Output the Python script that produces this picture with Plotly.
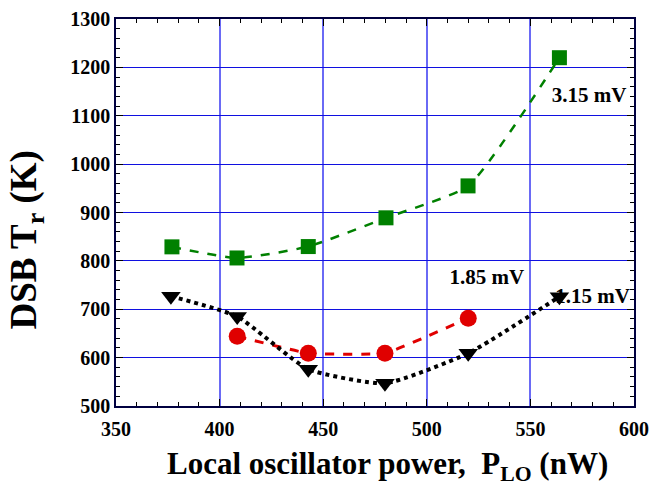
import plotly.graph_objects as go

# Data
x_green = [377, 408.4, 442.8, 480.3, 519.9, 564]
y_green = [829, 806, 829.6, 889, 955, 1220]

x_red = [408.5, 442.8, 479.8, 520]
y_red = [644, 609, 609, 681.6]

x_black = [376.5, 408.5, 442.8, 479.8, 520, 564]
y_black = [727, 685, 576, 547, 609, 726]

label_text = ["3.15 mV", "1.85 mV", "1.15 mV"]
label_x = [578.3, 529, 580]
label_y = [1138.8, 763, 723.6]

x_title = "Local oscillator power,  P<sub>LO</sub> (nW)"
y_title = "DSB T<sub>r</sub> (K)"

FONT = "Liberation Serif"

fig = go.Figure()

fig.add_trace(go.Scatter(
    x=x_green, y=y_green, mode="lines+markers",
    line=dict(color="#008000", width=2.5, dash="dash", shape="spline", smoothing=0.5),
    marker=dict(symbol="square", size=15, color="#008000"),
    showlegend=False))

fig.add_trace(go.Scatter(
    x=x_red, y=y_red, mode="lines+markers",
    line=dict(color="#e00000", width=3, dash="dash", shape="spline", smoothing=0.3),
    marker=dict(symbol="circle", size=17, color="#e00000"),
    showlegend=False))

fig.add_trace(go.Scatter(
    x=label_x, y=label_y, mode="text", text=label_text,
    textfont=dict(family=FONT, size=21, color="black", weight="bold"),
    textposition="middle center", cliponaxis=False, showlegend=False,
    hoverinfo="skip"))

fig.add_trace(go.Scatter(
    x=x_black, y=y_black, mode="lines+markers",
    line=dict(color="black", width=4, dash="dot", shape="spline", smoothing=0.5),
    marker=dict(symbol="triangle-down", size=17, color="black"),
    showlegend=False))

axis_common = dict(
    showline=True, linecolor="#000040", linewidth=1.5, mirror="ticks",
    ticks="inside", ticklen=7, tickwidth=1.2, tickcolor="black",
    tickfont=dict(family=FONT, size=20, color="black", weight="bold"),
    zeroline=False, automargin=False,
)

fig.update_xaxes(
    range=[350, 600], dtick=50, tick0=350,
    showgrid=True, gridcolor="#6a6af5", gridwidth=1.6,
    ticklabelstandoff=4,
    minor=dict(dtick=10, ticks="inside", ticklen=4, tickcolor="black", showgrid=False),
    **axis_common)

fig.update_yaxes(
    range=[500, 1300], dtick=100, tick0=500,
    showgrid=True, gridcolor="#1010e0", gridwidth=1.4,
    minor=dict(dtick=20, ticks="inside", ticklen=4, tickcolor="black", showgrid=False),
    **axis_common)

fig.add_annotation(
    text=x_title, xref="paper", yref="paper", x=0.525, y=-0.155,
    xanchor="center", yanchor="middle", showarrow=False,
    font=dict(family=FONT, size=31, color="black", weight="bold"))

fig.add_annotation(
    text=y_title, xref="paper", yref="paper", x=-0.172, y=0.43,
    xanchor="center", yanchor="middle", showarrow=False, textangle=-90,
    font=dict(family=FONT, size=37, color="black", weight="bold"))

fig.update_layout(
    width=650, height=495,
    margin=dict(l=116, r=16, t=19, b=89),
    plot_bgcolor="white", paper_bgcolor="white",
    font=dict(family=FONT, color="black"),
)

fig.write_html("out.html")
